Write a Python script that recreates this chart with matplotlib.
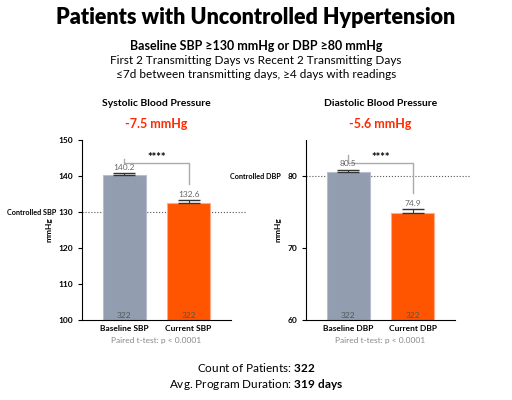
import matplotlib.pyplot as plt

cats_sbp = ["Baseline SBP", "Current SBP"]
vals_sbp = [140.2, 132.6]
err_sbp = [0.6, 0.7]
cats_dbp = ["Baseline DBP", "Current DBP"]
vals_dbp = [80.5, 74.9]
err_dbp = [0.4, 0.5]
n = [322, 322]

plt.rcParams['font.family'] = ['Lato', 'DejaVu Sans']
plt.rcParams['mathtext.fontset'] = 'custom'
plt.rcParams['mathtext.bf'] = 'Lato:bold'
plt.rcParams['mathtext.rm'] = 'Lato'
fig = plt.figure(figsize=(5.12, 4), dpi=100)
W, H = 512, 400
gray, orange = "#939db0", "#ff5500"

fig.text(0.5, 1-18/H, "Patients with Uncontrolled Hypertension", ha='center', va='center', fontsize=15.5, fontweight='heavy')
fig.text(0.5, 1-46/H, "Baseline SBP ≥130 mmHg or DBP ≥80 mmHg", ha='center', va='center', fontsize=9, fontweight='bold')
fig.text(0.5, 1-60/H, "First 2 Transmitting Days vs Recent 2 Transmitting Days", ha='center', va='center', fontsize=8.5)
fig.text(0.5, 1-74/H, "≤7d between transmitting days, ≥4 days with readings", ha='center', va='center', fontsize=8.5)

def panel(x0, x1, cats, vals, errs, ylim, ticks, ctrl, ctrl_lbl, title, diff):
    ax = fig.add_axes([x0/W, 1-320/H, (x1-x0)/W, 180/H])
    ax.bar([0, 1], vals, width=0.67, color=[gray, orange], edgecolor=["#b8bfcc", "#ffaa88"], linewidth=0.8, zorder=2)
    ax.errorbar([0, 1], vals, yerr=[[0, 0], errs], fmt='none', ecolor='#333', capsize=8, lw=0.8, zorder=3)
    ax.set_xlim(-0.66, 1.66)
    ax.set_ylim(*ylim)
    ax.set_yticks(ticks)
    ax.set_xticks([0, 1])
    ax.set_xticklabels(cats, fontsize=6, fontweight='bold')
    ax.tick_params(axis='y', labelsize=6, length=3)
    for l in ax.get_yticklabels():
        l.set_fontweight('bold')
    ax.tick_params(axis='x', length=0)
    ax.spines['top'].set_visible(False)
    ax.spines['right'].set_visible(False)
    ax.set_ylabel("mmHg", fontsize=6, fontweight='bold')
    ax.axhline(ctrl, xmin=0, xmax=1.1, ls=':', color='#555', lw=0.8, clip_on=False, zorder=1)
    ax.text(-0.17, ctrl, ctrl_lbl, transform=ax.get_yaxis_transform(), ha='right', va='center', fontsize=5.2, fontweight='bold')
    rng = ylim[1]-ylim[0]
    for i, (v, e) in enumerate(zip(vals, errs)):
        ax.text(i, v+e+rng*0.012, f"{v}", ha='center', va='bottom', fontsize=6, color='#666')
        ax.text(i, ylim[0]+rng*0.005, f"{n[i]}", ha='center', va='bottom', fontsize=6, color='#555')
    top = ylim[0]+rng*(0.87)
    ax.plot([0, 0, 1, 1], [vals[0]+errs[0]+rng*0.08, top, top, vals[1]+errs[1]+rng*0.09], color='#aaa', lw=1)
    ax.text(0.5, top+rng*0.005, "****", ha='center', va='bottom', fontsize=8, fontweight='bold')
    cx = (x0+x1)/2/W
    fig.text(cx, 1-103/H, title, ha='center', va='center', fontsize=7.5, fontweight='bold')
    fig.text(cx, 1-124/H, diff, ha='center', va='center', fontsize=9, fontweight='bold', color='#ff2a00')
    fig.text(cx, 1-340/H, "Paired t-test: p < 0.0001", ha='center', va='center', fontsize=6, color='#888')

panel(82, 231, cats_sbp, vals_sbp, err_sbp, (100, 150), [100, 110, 120, 130, 140, 150], 130,
      "Controlled SBP", "Systolic Blood Pressure", "-7.5 mmHg")
panel(306, 455, cats_dbp, vals_dbp, err_dbp, (60, 85), [60, 70, 80], 80,
      "Controlled DBP", "Diastolic Blood Pressure", "-5.6 mmHg")

fig.text(0.5, 1-367/H, "Count of Patients: $\\bf{322}$", ha='center', va='center', fontsize=8.5)
fig.text(0.5, 1-384/H, "Avg. Program Duration: $\\bf{319\\ days}$", ha='center', va='center', fontsize=8.5)
fig.savefig("out.png", dpi=100)
